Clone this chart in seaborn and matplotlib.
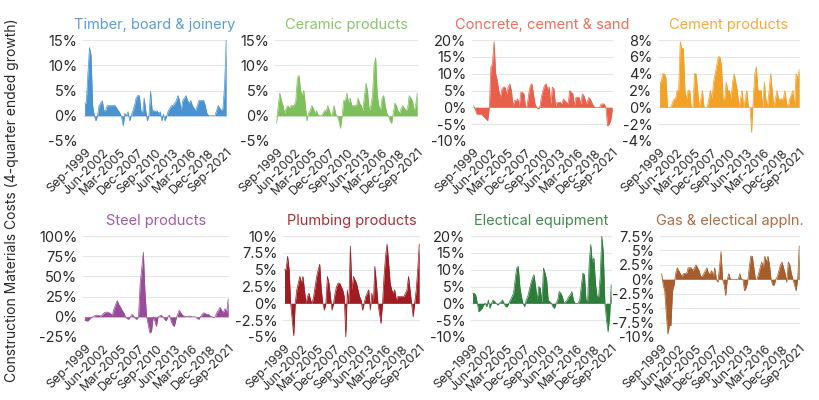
import matplotlib
matplotlib.use("Agg")
import matplotlib.pyplot as plt
import seaborn as sns
import numpy as np
import pandas as pd

quarters = pd.period_range("1999Q3", "2021Q3", freq="Q")
tick_labels = ["Sep-1999", "Jun-2002", "Mar-2005", "Dec-2007", "Sep-2010",
               "Jun-2013", "Mar-2016", "Dec-2018", "Sep-2021"]

timber = [2.5, 2.5, 8, 13.5, 12, 2, 0, -1, 0, 2, 2.5, 3, 1, 1, 2, 2, 2, 2, 2, 2,
          1.5, 1, 0.5, -0.3, -2, 0.5, 0, 0.8, -1, 0, 1, 2, 3.5, 4, 4, 1, 0.5, 3.5, 1, -1,
          0, 4.8, 1, 1, 0.8, 1, 0.5, 0.8, -1, 0.3, -1, 0, 1, 1.5, 2, 2, 2.5, 3, 4, 3,
          1, 3, 3.5, 4, 3, 2.5, 3, 2, 1.5, 1, 2, 3, 3, 3, 3, 2, 0.5, 0, 0, 0,
          0, 0, 1, 2, 1.5, 1, 1.5, 6, 15]
ceramic = [-1.5, 2, 4.5, 3, 2, 0.5, 1.5, 2, 1.5, 2, 2, 2, 3, 7.5, 8, 5, 4, 5, 2, -1,
           0.5, 1, 2, 1.5, 0.5, 1, 0.2, 0, 0, 0.5, 1, 1, 2, 1, 0, 0.5, 2, 0.3, 0, -1,
           -2.5, 0, 3, 3, 4.5, 2.5, 3.5, 2, 2, 2, 2, 3.5, 2.5, 2, 1, 4, 6.5, 4.5, 1, 2,
           4, 10, 11.5, 4, 2, 1, 3.5, 4, 2, 0.5, 0, -1, -1.5, 0.5, 2.5, 2, 1, 0.5, 1.5, 2,
           1.5, 1, 1.5, 4, 3.5, 3, 1, 2, 4.5]
concrete = [0.5, -0.5, -2, -2, -2, -2, -2.5, -3, -3.5, -4, 0, 12, 13, 19.5, 10, 8, 5, 3, 5.5, 6,
            6, 4, 6, 7, 5, 0.5, 2, 2, 2.5, 0.5, 4.5, 4.5, 4, 0, 0.5, 4, 6.5, 7, 4, 1,
            0, -0.5, 0, 3, 5, 6.5, 7, 5.5, 6, 1, 6, 5.5, 0.5, 1.5, 1.5, 1.5, 1, 2.5, 2, 1.5,
            1, 5, 4.5, 4, 0.5, 3, 3, 3, 1, 4, 3.5, 2, 1, 3, 2.5, 1.5, 0.5, 0, 0, 0,
            0, 1, 1, 1, 0, -5.5, -5, -4, -1]
cement = [3, 3, 4, 4, 3.5, 0, 0, 0, 0.5, 1, 1, 2, 2, 7.8, 7, 7, 2, 1, 2, 2,
          0, 0, 4, 4, 2, 0, 1, 2, 0, 0, 0, 1, 2, 1, 3, 4, 5, 6, 6, 5,
          1, 1, 3, 2, 2, 1, 3, 4, 3, 2, 0, 1, 2, 0, 1, 2, 0, 0, -3, 1,
          4, 4.8, 2, 2, 2, 0, 3, 1, 0, 2, 4, 2, 0, 1, 2, 1, 1, 1, 1, 2,
          0.5, 0, 1, 1.5, 2, 0, 4, 3.5, 4.5]
steel = [-4, -5, -5, -3, -1, 0, 1, 2, 2, 1.5, 1, 3, 5, 5.5, 6, 5, 4, 2, 10, 15,
         20, 15, 12, 8, 5, 0, -2, -3, 0, 3, 1, -2, -3, 0, 40, 60, 80, 30, 0, -10,
         -20, -18, 0, -5, -12, 0, 1, 2, 0, -3, -5, 0, 2, -5, -10, -12, -3, 3, 8, 5,
         2, 1, 0, 0.5, 1, 0.5, 0, 0, 0, -2, -3, 0, 3, 5, 4, 3, 3, 1, 0, -1,
         0, 5, 8, 12, 8, 5, 10, 5, 22]
plumbing = [5, 5, 7, 5, 0, -2.5, -4.8, 0, 2, 3, 4, 3, 4, 2, 0, 1, 1.5, 0.5, 0, 1,
            2.5, 4, 5, 5.8, 2, 0, -1, 0, 4, 3, 1, -1, 0, 1.5, 2.5, 3, 3, 2.5, 2, 1,
            -5, 2, 0, 8.5, 2, 4, 3.5, 3, 2, 1, 0.5, -1, 0, 1, 1.5, 2, -1, 1.5, 0, 5.5,
            3, 0, -1.5, -3, 0, 4, 7, 8.8, 6, 3, 2, 1.5, 2, 0.5, 1, 1, 1, 1, 1, 1.5,
            2, 4, 2, 0, -2, 0, 2, 5, 8.8]
electrical = [3, 3, 2.5, 0, -2.5, -2, -1.5, -0.5, 0, -1, 1, -1.5, 0, 1, 0.5, 0, -0.5, 0, 0.5, 1,
              0, -1, -1, 0, 1, 2, 3, 7, 10.5, 11, 5, 2, 0, -1, 1, 2, 4, 6, 7.5, 8.5,
              5, 1, 5, 4.5, 0, 10.5, 9, 7, 1, 0.5, 0, -1, -1.5, 0, 1, 3.5, 3, 2, 0, 0.5,
              1, 2, 2.5, 3.5, 1, 0, 0, 0, 1, 5, 9, 8.5, 1, 0.5, 12, 17.5, 12, 13.5, 6, 2,
              2, 8, 20, 15, 0, -5, -8.5, -4, 5.5]
gas = [1, -1, -2, -6, -9.5, -8, -8, -2, -1, 1, 2, 1.5, 1, 0.5, 1, 1, 1, 2, 2, 2,
       1.5, 2, 2.5, 2, 1.5, 0.5, 0.5, 1, 1.5, 2, 1, 1, 1.5, 0.5, 2, 0, -0.5, 2, 4.8, 0,
       -1, -2.8, 0, 1, 0, 0, 0, 0, 0, 0, 1, 0, 0, -2, -1.5, -0.5, 2, 4, 4, 2,
       0, 0, 1, 2, 3, 2, 4, 3, 4, 2.5, 0, -1, -1, 0, 0.5, 1.5, 2.5, 3, 2, 1,
       -0.5, 3, 2.5, 1, 0, -1, -2, 0, 5.8]

titles = ["Timber, board & joinery", "Ceramic products", "Concrete, cement & sand",
          "Cement products", "Steel products", "Plumbing products",
          "Electical equipment", "Gas & electical appln."]
series = [timber, ceramic, concrete, cement, steel, plumbing, electrical, gas]
colors = ["#4A92D0", "#7DC05B", "#E8604C", "#F2A227",
          "#9A4A9A", "#A01B22", "#2F7D3B", "#A65D2B"]
yticks = [[-5, 0, 5, 10, 15], [-5, 0, 5, 10, 15],
          [-10, -5, 0, 5, 10, 15, 20], [-4, -2, 0, 2, 4, 6, 8],
          [-25, 0, 25, 50, 75, 100], [-5, -2.5, 0, 2.5, 5, 7.5, 10],
          [-10, -5, 0, 5, 10, 15, 20], [-10, -7.5, -5, -2.5, 0, 2.5, 5, 7.5]]

sns.set_theme(style="white")
plt.rcParams["font.family"] = ["Inter", "DejaVu Sans"]

W, H = 820, 400
fig = plt.figure(figsize=(W / 100, H / 100), dpi=100)

xpos = [(83, 227), (275, 418), (472, 613), (658, 800),
        (83, 229), (283, 420), (471, 612), (660, 800)]
ypos = [(40, 141)] * 4 + [(236, 337)] * 4


def fmt(v):
    return ("%g" % v) + "%"


tick_idx = [quarters.get_loc(pd.Period(pd.to_datetime(t, format="%b-%Y"), freq="Q"))
            for t in tick_labels]

for k in range(8):
    x0, x1 = xpos[k]
    y0, y1 = ypos[k]
    ax = fig.add_axes([x0 / W, 1 - y1 / H, (x1 - x0) / W, (y1 - y0) / H])
    df = pd.DataFrame({"q": np.arange(len(quarters)), "v": series[k]})
    sns.lineplot(data=df, x="q", y="v", ax=ax, color=colors[k], linewidth=0.5)
    ax.fill_between(df["q"], 0, df["v"], color=colors[k], linewidth=0)
    yt = yticks[k]
    ax.set_ylim(yt[0], yt[-1])
    ax.set_xlim(-1, len(quarters) - 0.5)
    ax.set_yticks(yt)
    ax.set_yticklabels([fmt(v) for v in yt], fontsize=10.5, color="#2a2a2a")
    ax.set_xticks(tick_idx)
    ax.set_xticklabels(tick_labels, rotation=45, ha="right", va="top",
                       rotation_mode="anchor", fontsize=9, color="#2a2a2a")
    ax.tick_params(axis="x", length=0, pad=4)
    ax.tick_params(axis="y", length=0, pad=4)
    ax.grid(axis="y", color="#e6e6e6", linewidth=0.8)
    ax.set_axisbelow(True)
    for sp in ax.spines.values():
        sp.set_visible(False)
    ax.set_xlabel("")
    ax.set_ylabel("")
    ax.set_title(titles[k], color=colors[k], fontsize=10.5, pad=8, alpha=0.9)

fig.text(12 / W, 0.5, "Construction Materials Costs (4-quarter ended growth)",
         rotation=90, va="center", ha="center", fontsize=10, color="#2a2a2a")

fig.savefig("out.png", dpi=100)
